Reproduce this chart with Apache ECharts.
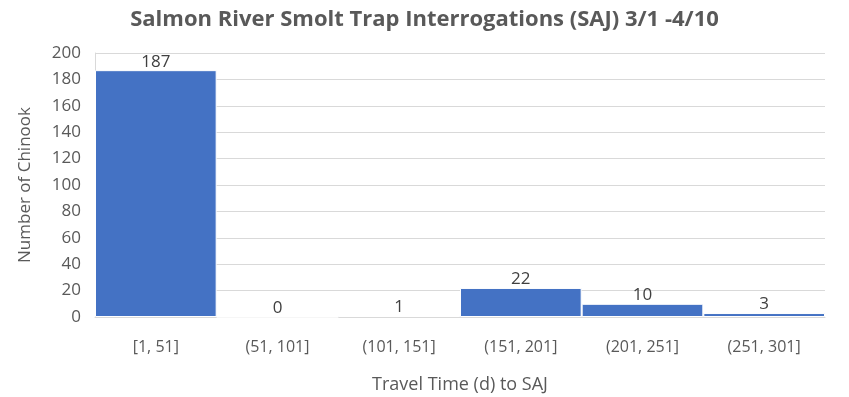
<!DOCTYPE html>
<html>
<head>
<meta charset="utf-8">
<script src="https://cdn.jsdelivr.net/npm/echarts@6/dist/echarts.min.js"></script>
<style>
  html, body { margin: 0; padding: 0; background: #fff; }
  #chart { width: 849px; height: 397px; }
</style>
</head>
<body>
<div id="chart"></div>
<script>
const bins = ['[1, 51]', '(51, 101]', '(101, 151]', '(151, 201]', '(201, 251]', '(251, 301]'];
const counts = [187, 0, 1, 22, 10, 3];
const yTicks = [0, 20, 40, 60, 80, 100, 120, 140, 160, 180, 200];

const chart = echarts.init(document.getElementById('chart'));
const font = 'Open Sans, Noto Sans, sans-serif';

chart.setOption({
  animation: false,
  title: {
    text: 'Salmon River Smolt Trap Interrogations (SAJ) 3/1 -4/10',
    left: 'center',
    top: 4,
    textStyle: { fontFamily: font, fontSize: 22, fontWeight: 'bold', color: '#595959' }
  },
  grid: { left: 95, right: 24, top: 53, bottom: 80, outerBoundsMode: 'none', containLabel: false },
  xAxis: {
    type: 'category',
    data: bins,
    name: 'Travel Time (d) to SAJ',
    nameLocation: 'middle',
    nameGap: 59,
    nameTextStyle: { fontFamily: font, fontSize: 18, color: '#595959' },
    axisLine: { lineStyle: { color: '#d9d9d9' } },
    axisTick: { show: false },
    axisLabel: { margin: 22, fontFamily: font, fontSize: 16, color: '#595959' }
  },
  yAxis: {
    type: 'value',
    min: yTicks[0],
    max: yTicks[yTicks.length - 1],
    interval: 20,
    name: 'Number of Chinook',
    nameLocation: 'middle',
    nameGap: 61,
    nameTextStyle: { fontFamily: font, fontSize: 17, color: '#595959' },
    axisLine: { show: true, lineStyle: { color: '#d9d9d9' } },
    axisTick: { show: false },
    axisLabel: { margin: 14, fontFamily: font, fontSize: 17, color: '#595959' },
    splitLine: { lineStyle: { color: '#d9d9d9' } }
  },
  series: [{
    type: 'bar',
    data: counts,
    barCategoryGap: '0%',
    itemStyle: { color: '#4472C4', borderColor: '#fff', borderWidth: 1 },
    label: {
      show: true,
      position: 'top',
      distance: 0,
      fontFamily: font,
      fontSize: 17,
      color: '#404040'
    }
  }]
});
</script>
</body>
</html>
